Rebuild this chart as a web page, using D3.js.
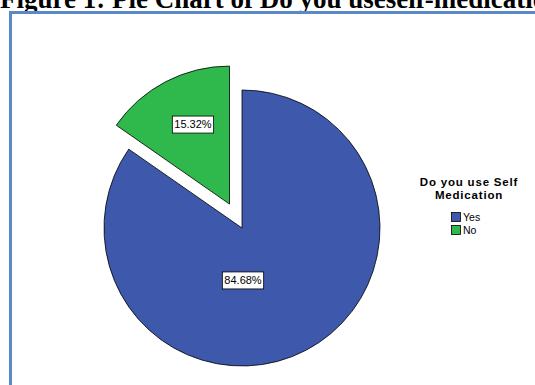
<!DOCTYPE html>
<html>
<head>
<meta charset="utf-8">
<script src="https://cdn.jsdelivr.net/npm/d3@7"></script>
<style>
  html, body { margin: 0; padding: 0; background: #fff; }
  svg { display: block; }
</style>
</head>
<body>
<div id="chart"></div>
<script>
// Pie chart - Do you use Self Medication

const categories = ['Yes', 'No'];
const percents = [84.68, 15.32];
const colors = ['#3e58ab', '#2fb84b'];
const titleText = 'Figure 1: Pie Chart of Do you useself-medication';
const legendTitle = ['Do you use Self', 'Medication'];

const width = 535;
const height = 385;

const svg = d3.select('#chart')
    .append('svg')
    .attr('width', width)
    .attr('height', height);

// Figure title, cut off by the top of the page
svg.append('text')
    .attr('x', 0)
    .attr('y', 7.5)
    .attr('font-family', 'Liberation Serif, Times New Roman, serif')
    .attr('font-weight', 'bold')
    .attr('font-size', '27px')
    .attr('fill', '#000')
    .text(titleText);

// Blue frame of the output box
svg.append('rect')
    .attr('x', 10.5)
    .attr('y', 12.5)
    .attr('width', 600)
    .attr('height', 500)
    .attr('fill', 'none')
    .attr('stroke', '#5b88c6')
    .attr('stroke-width', 3);

const data = categories.map((c, i) => ({ name: c, value: percents[i], color: colors[i] }));

const cx = 242, cy = 228, r = 138;
const explode = 27;

const pie = d3.pie()
    .sort(null)
    .value(d => d.value);

const arc = d3.arc()
    .innerRadius(0)
    .outerRadius(r);

const g = svg.append('g')
    .attr('transform', `translate(${cx},${cy})`);

const slices = g.selectAll('.slice')
    .data(pie(data))
    .enter()
    .append('g')
    .attr('class', 'slice')
    .attr('transform', (d, i) => {
        if (i === 0) return null;
        const mid = (d.startAngle + d.endAngle) / 2;
        return `translate(${Math.sin(mid) * explode},${-Math.cos(mid) * explode})`;
    });

slices.append('path')
    .attr('d', arc)
    .attr('fill', d => d.data.color)
    .attr('stroke', '#000')
    .attr('stroke-width', 0.8);

// Value labels in boxes
slices.each(function(d, i) {
    const s = d3.select(this);
    const mid = (d.startAngle + d.endAngle) / 2;
    let lx, ly;
    if (i === 0) {
        lx = 1; ly = r * 0.38;
    } else {
        const rr = r * 0.65;
        lx = Math.sin(mid) * rr + 5; ly = -Math.cos(mid) * rr;
    }
    const label = s.append('g').attr('transform', `translate(${lx},${ly})`);
    const t = label.append('text')
        .attr('text-anchor', 'middle')
        .attr('dy', '0.35em')
        .attr('font-family', 'Liberation Sans, Arial, sans-serif')
        .attr('font-size', '11px')
        .attr('fill', '#000')
        .text(d.data.value.toFixed(2) + '%');
    const w = t.node().getComputedTextLength() + 4;
    label.insert('rect', 'text')
        .attr('x', -w / 2)
        .attr('y', -8.5)
        .attr('width', w)
        .attr('height', 17)
        .attr('fill', '#fff')
        .attr('stroke', '#000')
        .attr('stroke-width', 0.8);
});

// Legend
const legend = svg.append('g')
    .attr('transform', 'translate(469, 0)');

legendTitle.forEach((line, i) => {
    legend.append('text')
        .attr('x', 0)
        .attr('y', 186 + i * 13)
        .attr('text-anchor', 'middle')
        .attr('font-family', 'Liberation Sans, Arial, sans-serif')
        .attr('font-weight', 'bold')
        .attr('font-size', '11.5px')
        .attr('letter-spacing', '0.8px')
        .attr('fill', '#000')
        .text(line);
});

data.forEach((d, i) => {
    const row = legend.append('g')
        .attr('transform', `translate(-18, ${212 + i * 13})`);
    row.append('rect')
        .attr('x', 0.5)
        .attr('y', 0.5)
        .attr('width', 9)
        .attr('height', 9)
        .attr('fill', d.color)
        .attr('stroke', '#000')
        .attr('stroke-width', 0.8);
    row.append('text')
        .attr('x', 12)
        .attr('y', 9)
        .attr('font-family', 'Liberation Sans, Arial, sans-serif')
        .attr('font-size', '10.5px')
        .attr('fill', '#000')
        .text(d.name);
});
</script>
</body>
</html>
